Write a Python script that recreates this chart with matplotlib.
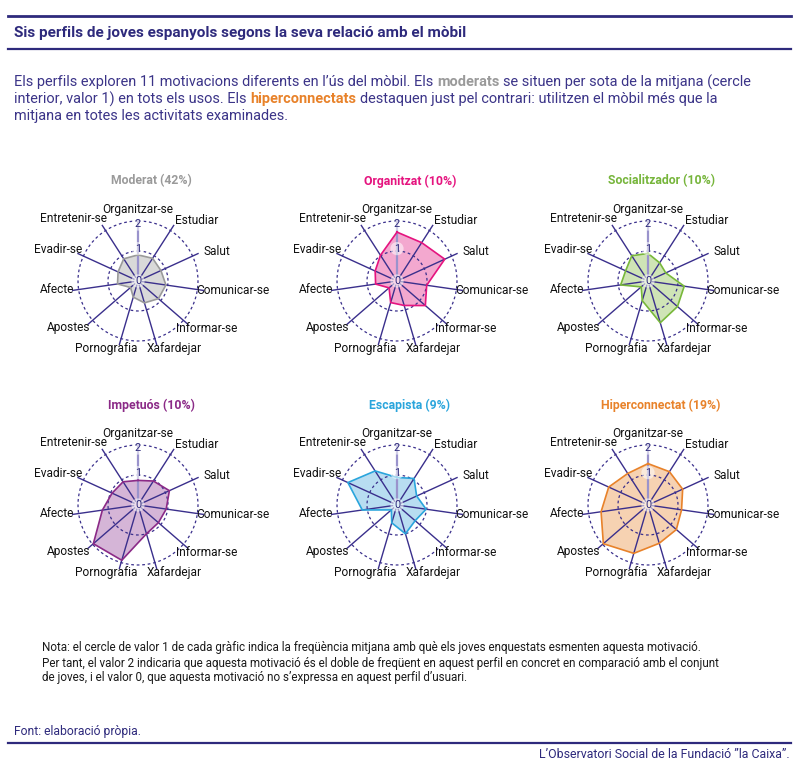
import numpy as np
import matplotlib
matplotlib.use('Agg')
import matplotlib.pyplot as plt
from matplotlib import font_manager
from matplotlib.lines import Line2D

W, H = 800, 768

# axes of every radar, clockwise from the top
axis_labels = ['Organitzar-se', 'Estudiar', 'Salut', 'Comunicar-se', 'Informar-se',
               'Xafardejar', 'Pornografia', 'Apostes', 'Afecte', 'Evadir-se', 'Entretenir-se']

profile_names = ['Moderat (42%)', 'Organitzat (10%)', 'Socialitzador (10%)',
                 'Impetuós (10%)', 'Escapista (9%)', 'Hiperconnectat (19%)']

moderat = [0.87, 0.90, 0.84, 0.94, 0.90, 0.76, 0.56, 0.33, 0.69, 0.73, 0.88]
organitzat = [1.63, 1.52, 1.75, 1.00, 1.25, 0.85, 0.75, 0.35, 0.72, 0.80, 1.02]
socialitzador = [0.92, 0.72, 0.65, 1.22, 1.30, 1.45, 0.68, 0.30, 0.92, 0.82, 1.00]
impetuos = [0.82, 0.95, 1.15, 0.95, 0.90, 1.00, 1.92, 1.97, 1.20, 0.95, 0.92]
escapista = [0.92, 1.05, 0.72, 0.98, 0.80, 1.00, 0.62, 0.25, 1.17, 1.80, 1.35]
hiperconnectat = [1.38, 1.32, 1.27, 1.13, 1.25, 1.33, 1.68, 1.97, 1.58, 1.44, 1.25]

profile_values = [moderat, organitzat, socialitzador, impetuos, escapista, hiperconnectat]

# title colour, fill colour, edge colour
profile_colors = [('#9a9a9a', '#d9d9d9', '#9a9a9a'),
                  ('#e5147f', '#f3a8cf', '#e5147f'),
                  ('#76b53b', '#cfe4b6', '#78b83a'),
                  ('#8b2a87', '#d5b5d7', '#8b2a87'),
                  ('#2aa5dc', '#b8ddf1', '#2aa5dc'),
                  ('#e8822a', '#f6d2b2', '#e8822a')]

INDIGO = '#2e2a7c'
SPOKE = '#3a2f8c'
LAVENDER = '#9a93cc'

installed = {f.name for f in font_manager.fontManager.ttflist}
SANS = ['Roboto', 'DejaVu Sans']
NARROW = ['Liberation Sans Narrow', 'Roboto', 'DejaVu Sans'] if 'Liberation Sans Narrow' in installed else SANS

fig = plt.figure(figsize=(W / 100, H / 100), dpi=100)
renderer = fig.canvas.get_renderer()


def fx(x):
    return x / W


def fy(y):
    return 1 - y / H


def hline(y, lw):
    fig.add_artist(Line2D([fx(8), fx(791)], [fy(y), fy(y)], color=INDIGO, lw=lw))


# header
hline(16, 2.0)
fig.text(fx(14), fy(33), 'Sis perfils de joves espanyols segons la seva relació amb el mòbil',
         family=NARROW, fontsize=11.0, fontweight='bold', color=INDIGO, va='center')
hline(49, 1.6)

# intro paragraph with coloured words
intro_lines = [
    [('Els perfils exploren 11 motivacions diferents en l’ús del mòbil. Els', '#3b3488', 'normal'),
     ('moderats', '#9a9a9a', 'bold'),
     ('se situen per sota de la mitjana (cercle', '#3b3488', 'normal')],
    [('interior, valor 1) en tots els usos. Els', '#3b3488', 'normal'),
     ('hiperconnectats', '#e8822a', 'bold'),
     ('destaquen just pel contrari: utilitzen el mòbil més que la', '#3b3488', 'normal')],
    [('mitjana en totes les activitats examinades.', '#3b3488', 'normal')],
]
intro_y = [82, 99, 116]
intro_size = 10.45


def text_width(s, **kw):
    t = fig.text(0, 0, s, fontsize=intro_size, family=SANS, **kw)
    w = t.get_window_extent(renderer).width
    t.remove()
    return w


space_w = text_width('a a') - text_width('aa')
for parts, y in zip(intro_lines, intro_y):
    x = 14
    for txt, color, weight in parts:
        t = fig.text(fx(x), fy(y), txt, color=color, fontweight=weight, family=SANS,
                     fontsize=intro_size, va='center', ha='left')
        x += t.get_window_extent(renderer).width + space_w

# radar charts
centers = [(138, 281), (397, 281), (648, 281), (138, 505), (397, 505), (648, 505)]
unit = 30.0
rmax = 2.6
n = len(axis_labels)
angles = np.arange(n) * 2 * np.pi / n
spoke_len = 2.2
# label placement: (ha, va, dx px, dy px) around the spoke end
label_style = [('center', 'center', 0, 6), ('left', 'center', 1, 5), ('left', 'center', 5, 2),
               ('left', 'center', -7, 0), ('center', 'center', 19, -4), ('center', 'center', 18, -4),
               ('center', 'center', -13, -4), ('right', 'center', 2, -3), ('right', 'center', 2, 1),
               ('right', 'center', 4, 4), ('right', 'center', 5, 7)]

circle_t = np.linspace(0, 2 * np.pi, 300)
for name, vals, (tcol, fcol, ecol), (cx, cy) in zip(profile_names, profile_values, profile_colors, centers):
    size = 2 * rmax * unit
    ax = fig.add_axes([fx(cx - size / 2), (H - cy - size / 2) / H, size / W, size / H], projection='polar')
    ax.set_theta_zero_location('N')
    ax.set_theta_direction(-1)
    ax.set_ylim(0, rmax)
    ax.grid(False)
    ax.set_xticks([])
    ax.set_yticks([])
    ax.spines['polar'].set_visible(False)
    ax.patch.set_alpha(0)

    th = np.append(angles, angles[0])
    v = np.append(vals, vals[0])
    ax.fill(th, v, color=fcol, zorder=1, lw=0)

    for r in (1, 2):
        ax.plot(circle_t, np.full_like(circle_t, r), color=SPOKE, lw=0.9, ls=(0, (2.2, 2.2)), zorder=3)
    for i, a in enumerate(angles):
        if i == 0:
            ax.plot([a, a], [0.15, 2.0], color=LAVENDER, lw=1.6, zorder=3)
        else:
            ax.plot([a, a], [0.15, spoke_len], color=SPOKE, lw=1.0, zorder=3)
    ax.plot(th, v, color=ecol, lw=1.2, zorder=4)

    for lab, a, (ha, va, dx, dy) in zip(axis_labels, angles, label_style):
        ax.annotate(lab, xy=(a, spoke_len), xytext=(dx, dy), textcoords='offset pixels',
                    ha=ha, va=va, fontsize=8.6, family=SANS, color='#111111',
                    annotation_clip=False, zorder=6)

    halo = dict(boxstyle='circle,pad=0.15', fc='white', ec='none', alpha=0.55)
    for r, s in ((0, '0'), (1.08, '1'), (1.9, '2')):
        ax.text(0, r, s, ha='center', va='center', fontsize=7.8, family=SANS,
                color=INDIGO, bbox=halo, zorder=5)

    fig.text(fx(cx + 13), fy(cy - 100), name, ha='center', va='center', fontsize=8.8,
             fontweight='bold', family=SANS, color=tcol)

# note and footer
note_lines = ['Nota: el cercle de valor 1 de cada gràfic indica la freqüència mitjana amb què els joves enquestats esmenten aquesta motivació.',
              'Per tant, el valor 2 indicaria que aquesta motivació és el doble de freqüent en aquest perfil en concret en comparació amb el conjunt',
              'de joves, i el valor 0, que aquesta motivació no s’expressa en aquest perfil d’usuari.']
for s, y in zip(note_lines, [648, 663, 677]):
    fig.text(fx(42), fy(y), s, family=NARROW, fontsize=8.4, color='#1a1a1a', va='center')

fig.text(fx(14), fy(731), 'Font: elaboració pròpia.', family=NARROW, fontsize=8.7, color=INDIGO, va='center')
hline(743, 1.6)
fig.text(fx(790), fy(755), 'L’Observatori Social de la Fundació ”la Caixa”.', family=SANS, fontsize=8.9,
         color=INDIGO, va='center', ha='right')

fig.savefig('out.png', dpi=100)
